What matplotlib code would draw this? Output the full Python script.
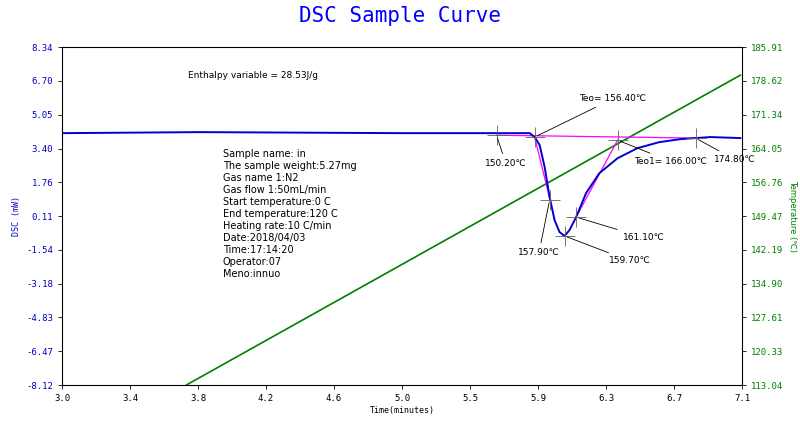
import matplotlib.pyplot as plt
import numpy as np

# DSC curve (time in minutes, heat flow in mW)
dsc_time = [3.0, 3.83, 5.04, 5.40, 5.82, 5.85, 5.88, 5.91, 5.94, 5.97, 6.00, 6.03,
            6.06, 6.10, 6.16, 6.24, 6.35, 6.47, 6.60, 6.73, 6.82, 6.91, 7.09]
dsc_vals = [4.15, 4.20, 4.15, 4.15, 4.15, 3.96, 3.57, 2.50, 1.04, -0.09, -0.67, -0.86,
            -0.57, 0.06, 1.23, 2.20, 2.93, 3.42, 3.71, 3.86, 3.91, 3.96, 3.91]

# temperature ramp
temp_time = [3.75, 7.09]
temp_vals = [113.04, 179.87]

# construction lines (magenta)
base_x = [5.62, 6.82]
base_y = [4.05, 3.91]
tan1_x = [5.85, 5.94]
tan1_y = [3.96, 0.98]
tan2_x = [6.10, 6.35]
tan2_y = [0.06, 3.81]

# markers and labels: (x, y, label, text_x, text_y)
marks = [
    (5.62, 4.05, "150.20\u2103", 5.55, 2.55),
    (5.85, 3.96, "Teo= 156.40\u2103", 6.12, 5.70),
    (5.94, 0.89, "157.90\u2103", 5.75, -1.80),
    (6.03, -0.86, "159.70\u2103", 6.30, -2.20),
    (6.10, 0.06, "161.10\u2103", 6.38, -1.05),
    (6.35, 3.81, "Teo1= 166.00\u2103", 6.45, 2.65),
    (6.82, 3.91, "174.80\u2103", 6.93, 2.75),
]

left_ticks = ["-8.12", "-6.47", "-4.83", "-3.18", "-1.54", "0.11", "1.76",
              "3.40", "5.05", "6.70", "8.34"]
right_ticks = ["113.04", "120.33", "127.61", "134.90", "142.19", "149.47",
               "156.76", "164.05", "171.34", "178.62", "185.91"]
x_ticks = ["3.0", "3.4", "3.8", "4.2", "4.6", "5.0", "5.5", "5.9", "6.3", "6.7", "7.1"]

info = ["Sample name: in", "The sample weight:5.27mg", "Gas name 1:N2",
        "Gas flow 1:50mL/min", "Start temperature:0 C", "End temperature:120 C",
        "Heating rate:10 C/min", "Date:2018/04/03", "Time:17:14:20",
        "Operator:07", "Meno:innuo"]

fig = plt.figure(figsize=(8, 4.21), dpi=100)
ax = fig.add_axes([0.0775, 0.0855, 0.85, 0.8025])
ax2 = ax.twinx()

ax.set_xlim(3.0, 7.1)
ax.set_ylim(-8.12, 8.34)
ax2.set_ylim(113.04, 185.91)

ax.set_xticks(np.linspace(3.0, 7.1, 11))
ax.set_xticklabels(x_ticks, fontsize=6.5, family="DejaVu Sans Mono")
ax.set_yticks(np.linspace(-8.12, 8.34, 11))
ax.set_yticklabels(left_ticks, fontsize=6.5, color="#0000c0", family="DejaVu Sans Mono")
ax2.set_yticks(np.linspace(113.04, 185.91, 11))
ax2.set_yticklabels(right_ticks, fontsize=6.5, color="#008000", family="DejaVu Sans Mono")
ax.tick_params(length=3, width=0.6)
ax2.tick_params(length=3, width=0.6)

ax.set_xlabel("Time(minutes)", fontsize=6, family="DejaVu Sans Mono", labelpad=2)
ax.set_ylabel("DSC (mW)", fontsize=6, color="#0000c0", family="DejaVu Sans Mono")
ax2.set_ylabel("Temperature (\u2103)", fontsize=6, color="#008000", rotation=270,
               labelpad=10, family="DejaVu Sans")

ax2.plot(temp_time, temp_vals, color="#008000", lw=1.2)
ax.plot(base_x, base_y, color="#ff00ff", lw=0.9)
ax.plot(tan1_x, tan1_y, color="#ff00ff", lw=0.9)
ax.plot(tan2_x, tan2_y, color="#ff00ff", lw=0.9)
ax.plot(dsc_time, dsc_vals, color="#0000d0", lw=1.4)
ax.set_zorder(ax2.get_zorder() + 1)
ax.patch.set_visible(False)

for x, y, lab, tx, ty in marks:
    ax.plot([x], [y], marker="+", ms=14, mew=0.6, color="#606060")
    ax.annotate(lab, xy=(x, y), xytext=(tx, ty), fontsize=6.5,
                arrowprops=dict(arrowstyle="-", color="black", lw=0.6))

ax.text(3.76, 6.83, "Enthalpy variable = 28.53J/g", fontsize=6.5)
ax.text(3.97, 3.4, "\n".join(info), fontsize=7, va="top", linespacing=1.25)

for s in ax.spines.values():
    s.set_linewidth(0.6)

fig.suptitle("DSC Sample Curve", fontsize=15, color="#0000ff", family="DejaVu Sans Mono", y=0.985)
fig.savefig("out.png")
